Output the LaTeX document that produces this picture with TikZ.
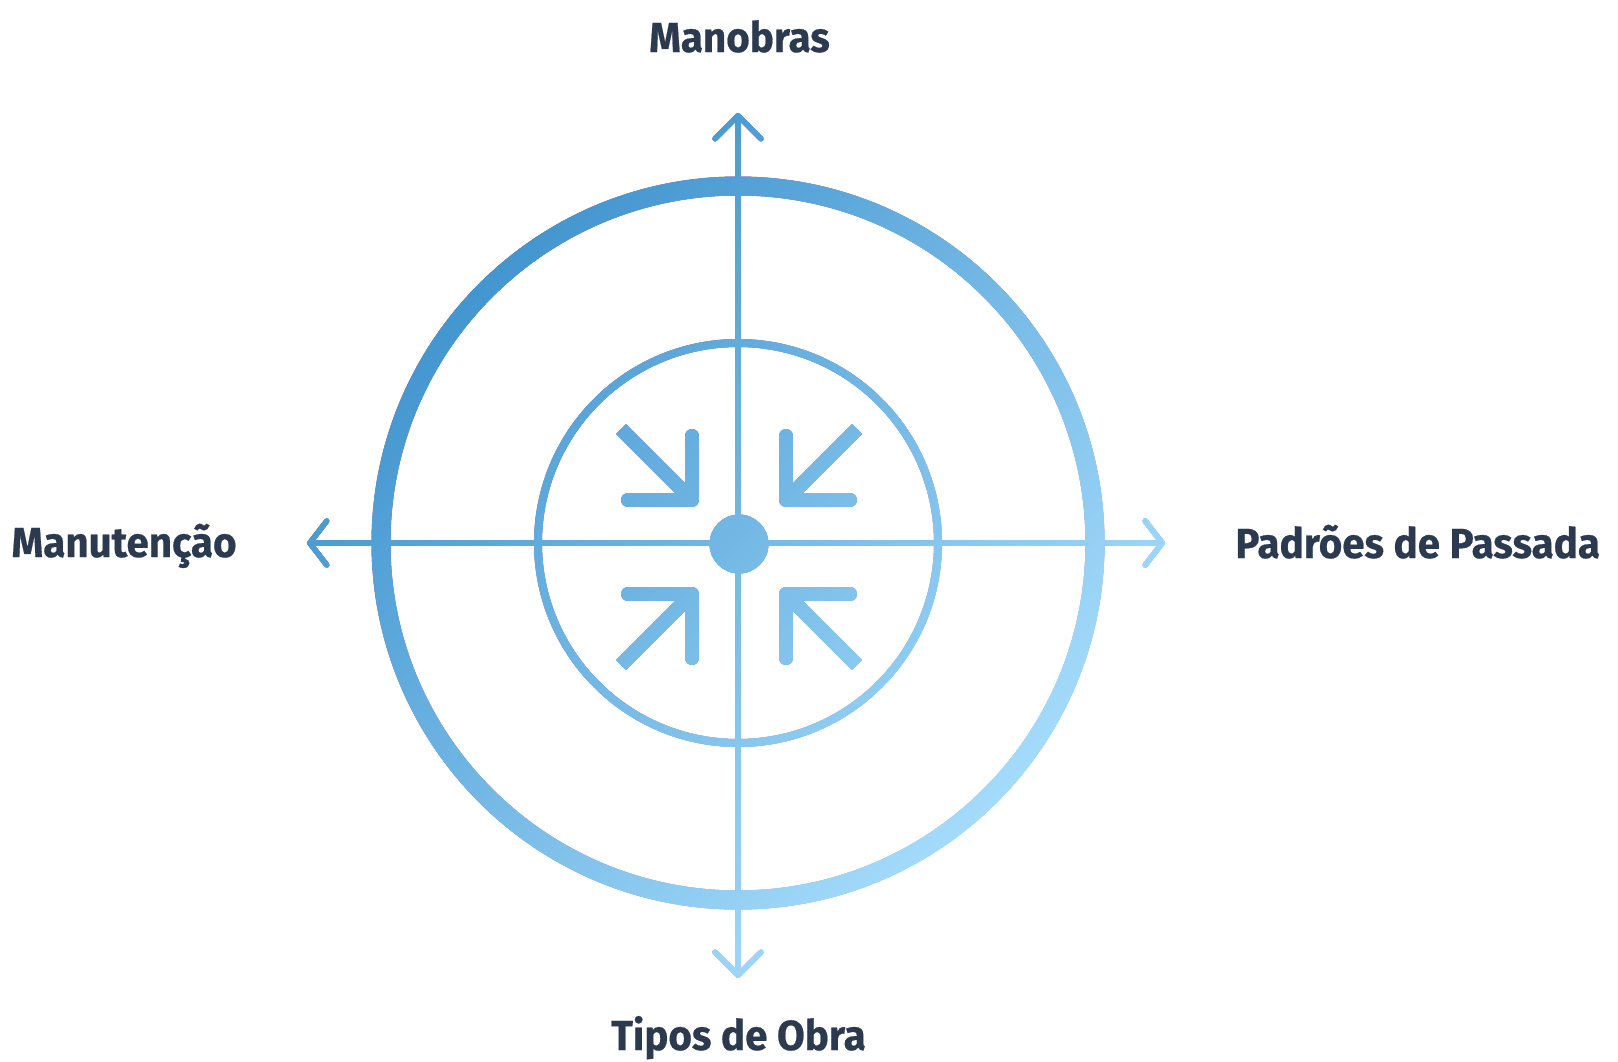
\documentclass[tikz,border=0pt]{standalone}
\usepackage{fontspec}
\newfontfamily\lblfont{Fira Sans}[FakeStretch=0.96, FakeBold=0.5]
\usetikzlibrary{arrows.meta}

\definecolor{ringdark}{RGB}{58,143,203}
\definecolor{ringlight}{RGB}{174,226,255}
\definecolor{labelnavy}{RGB}{44,58,79}

\tikzset{
  lbl/.style={font=\lblfont\bfseries\fontsize{21}{25}\selectfont, text=labelnavy, inner sep=0pt},
  vaxis/.style={line width=2.75pt, <->, >={Straight Barb[length=11.5pt,width=23pt,round]}},
  haxis/.style={line width=2.75pt, <->, >={Straight Barb[length=8.5pt,width=22pt,round]}},
  hubdot/.style={circle, fill=black, minimum size=29.5pt, inner sep=0pt},
  inward/.style={line width=7pt},
}

\begin{document}
\begin{tikzpicture}[x=0.5pt, y=-0.5pt]

% background, fixes the page size
\fill[white] (0,0) rectangle (1618,1061);

% shapes in black, coloured later by the gradient
\coordinate (C) at (738,543);
\coordinate (N) at (738,113);
\coordinate (S) at (738,978);
\coordinate (W) at (307,543);
\coordinate (E) at (1165,543);

\draw [line width=9.5pt] (C) circle (357);
\draw [line width=4pt] (C) circle (200);
\draw [vaxis] (N) -- (S);
\draw [haxis] (W) -- (E);
\node [hubdot] (hub) at (739,544) {};

% four arrows pointing to the hub
\begin{scope} [shift={(739,547)}]
\draw [inward, line cap=butt] (-118,-118) -- (-47,-47);
\draw [inward, line cap=round, line join=round] (-47,-111) -- (-47,-47) -- (-111,-47);
\end{scope}
\begin{scope} [shift={(739,547)}, xscale=-1]
\draw [inward, line cap=butt] (-118,-118) -- (-47,-47);
\draw [inward, line cap=round, line join=round] (-47,-111) -- (-47,-47) -- (-111,-47);
\end{scope}
\begin{scope} [shift={(739,547)}, yscale=-1]
\draw [inward, line cap=butt] (-118,-118) -- (-47,-47);
\draw [inward, line cap=round, line join=round] (-47,-111) -- (-47,-47) -- (-111,-47);
\end{scope}
\begin{scope} [shift={(739,547)}, xscale=-1, yscale=-1]
\draw [inward, line cap=butt] (-118,-118) -- (-47,-47);
\draw [inward, line cap=round, line join=round] (-47,-111) -- (-47,-47) -- (-111,-47);
\end{scope}

% diagonal gradient over the black shapes
\shade [blend mode=lighten, top color=ringdark, bottom color=ringlight, shading angle=45] (298,105) rectangle (1178,985);

% labels
\node [lbl, anchor=base] (manobras) at (739.5,52) {Manobras};
\node [lbl, anchor=base east] (manutencao) at (237,557) {Manutenção};
\node [lbl, anchor=base west] (padroes) at (1235,558) {Padrões de Passada};
\node [lbl, anchor=base] (tipos) at (738.5,1050) {Tipos de Obra};

\end{tikzpicture}
\end{document}
